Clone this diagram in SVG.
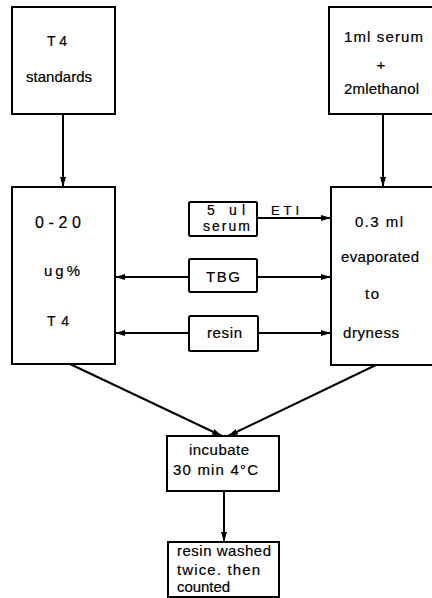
<svg xmlns="http://www.w3.org/2000/svg" width="432" height="598" viewBox="0 0 432 598">
<style>
.box{fill:#fff;stroke:#000;stroke-width:2}
.ln{fill:none;stroke:#000;stroke-width:2}
text{font-family:"Liberation Sans",Arial,sans-serif;font-size:15px;fill:#000;stroke:#000;stroke-width:0.2}
.sm{font-size:13px}
.md{font-size:14px}
</style>
<defs>
<marker id="ah" viewBox="0 0 10 6" refX="10" refY="3" markerWidth="5" markerHeight="3.2" orient="auto" markerUnits="strokeWidth">
<path d="M0,0 L10,3 L0,6 z" fill="#000"/>
</marker>
</defs>
<rect width="432" height="598" fill="#fff"/>
<g id="connectors">
<line class="ln" x1="63" y1="114" x2="63" y2="187" marker-end="url(#ah)"/>
<line class="ln" x1="383" y1="114" x2="383" y2="187" marker-end="url(#ah)"/>
<line class="ln" x1="257" y1="218" x2="331" y2="218" marker-end="url(#ah)"/>
<text x="271" y="215" textLength="28" lengthAdjust="spacing" class="sm">ETI</text>
<line class="ln" x1="189" y1="277" x2="115" y2="277" marker-end="url(#ah)"/>
<line class="ln" x1="257" y1="277" x2="331" y2="277" marker-end="url(#ah)"/>
<line class="ln" x1="189" y1="333" x2="115" y2="333" marker-end="url(#ah)"/>
<line class="ln" x1="258" y1="333" x2="331" y2="333" marker-end="url(#ah)"/>
<line class="ln" x1="70" y1="364" x2="222" y2="436" marker-end="url(#ah)"/>
<line class="ln" x1="376" y1="365" x2="228" y2="436" marker-end="url(#ah)"/>
<line class="ln" x1="224" y1="491" x2="224" y2="542" marker-end="url(#ah)"/>
</g>
<g id="t4-standards">
<rect class="box" x="12" y="7" width="103" height="107"/>
<text x="47" y="45.5" textLength="20" lengthAdjust="spacing" class="md">T 4</text>
<text x="26" y="81.5" textLength="66" lengthAdjust="spacing">standards</text>
</g>
<g id="serum-ethanol">
<rect class="box" x="329" y="7" width="110" height="107"/>
<text x="344" y="41.5" textLength="79" lengthAdjust="spacing">1ml serum</text>
<text x="381" y="70" text-anchor="middle">+</text>
<text x="344" y="94" textLength="75" lengthAdjust="spacing">2mlethanol</text>
</g>
<g id="standards-range">
<rect class="box" x="12" y="187" width="103" height="177"/>
<text x="35" y="227.5" textLength="46" lengthAdjust="spacing" style="font-size:16px">0-20</text>
<text x="44" y="275.5" textLength="36" lengthAdjust="spacing">ug%</text>
<text x="47" y="325.5" textLength="22" lengthAdjust="spacing" class="md">T 4</text>
</g>
<g id="evaporated">
<rect class="box" x="331" y="187" width="108" height="178"/>
<text x="355" y="226.5" textLength="48" lengthAdjust="spacing">0.3 ml</text>
<text x="341" y="262" textLength="78" lengthAdjust="spacing">evaporated</text>
<text x="365" y="298.5" textLength="14" lengthAdjust="spacing">to</text>
<text x="343" y="338" textLength="56" lengthAdjust="spacing">dryness</text>
</g>
<g id="serum-5ul">
<rect class="box" x="189" y="202" width="68" height="34" rx="1.5"/>
<text x="207" y="215" textLength="38" lengthAdjust="spacing" class="md">5 ul</text>
<text x="203" y="231" textLength="47" lengthAdjust="spacing" class="md">serum</text>
</g>
<g id="tbg">
<rect class="box" x="189" y="259" width="68" height="33" rx="1.5"/>
<text x="206" y="282" textLength="34" lengthAdjust="spacing">TBG</text>
</g>
<g id="resin">
<rect class="box" x="189" y="316" width="69" height="35" rx="1.5"/>
<text x="207" y="337.5" textLength="35" lengthAdjust="spacing">resin</text>
</g>
<g id="incubate">
<rect class="box" x="167" y="436" width="112" height="55"/>
<text x="189" y="455" textLength="60" lengthAdjust="spacing">incubate</text>
<text x="173" y="475" textLength="85" lengthAdjust="spacing">30 min  4°C</text>
</g>
<g id="counted">
<rect class="box" x="168" y="542" width="111" height="55"/>
<text x="177" y="556" textLength="94" lengthAdjust="spacing">resin washed</text>
<text x="177" y="575" textLength="83" lengthAdjust="spacing">twice. then</text>
<text x="177" y="592" textLength="53" lengthAdjust="spacing">counted</text>
</g>
</svg>
